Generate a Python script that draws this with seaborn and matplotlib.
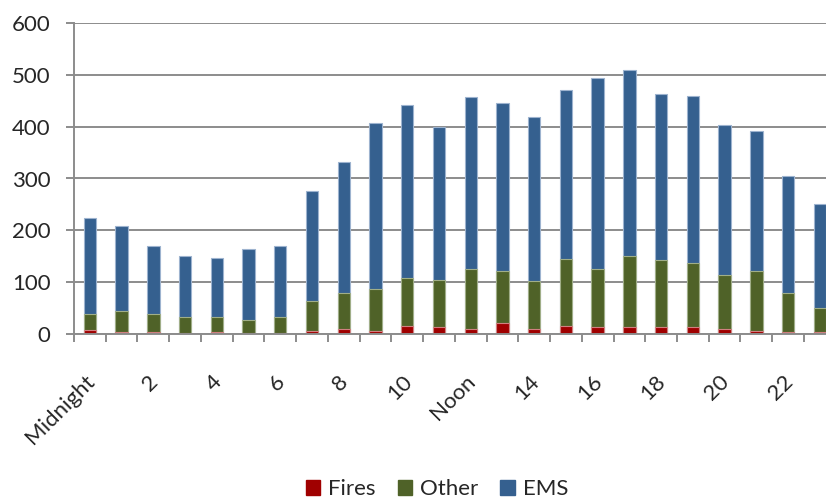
import pandas as pd
import seaborn as sns
import matplotlib.pyplot as plt
import matplotlib.transforms as mtransforms
from matplotlib.ticker import FixedLocator
from matplotlib.patches import Patch

# Дані: кількість викликів за годинами доби
hours = list(range(24))
tick_labels = ['Midnight', '', '2', '', '4', '', '6', '', '8', '', '10', '',
               'Noon', '', '14', '', '16', '', '18', '', '20', '', '22', '']
fires = [8, 4, 3, 2, 4, 1, 1, 6, 9, 6, 14, 12, 10, 20, 10, 15, 13, 12, 13, 12, 10, 6, 4, 3]
other = [31, 39, 36, 30, 28, 25, 31, 57, 70, 81, 94, 92, 115, 101, 91, 129, 112, 138, 129, 124, 103, 115, 75, 47]
ems = [184, 166, 130, 119, 114, 138, 138, 213, 253, 320, 334, 295, 332, 325, 317, 328, 369, 360, 321, 324, 291, 270, 225, 201]

colors = {'Fires': '#A00000', 'Other': '#4F6228', 'EMS': '#35608F'}
edges = {'Fires': '#D08080', 'Other': '#A0AE88', 'EMS': '#9DB3CF'}

data = pd.DataFrame({'hour': hours, 'Fires': fires, 'Other': other, 'EMS': ems})
data['cum_fires'] = data['Fires']
data['cum_other'] = data['Fires'] + data['Other']
data['cum_ems'] = data['cum_other'] + data['EMS']

sns.set_theme(style='white')
plt.rcParams['font.family'] = ['Lato', 'DejaVu Sans']

fig = plt.figure(figsize=(8.26, 4.98), dpi=100)
ax = fig.add_axes([74 / 826, 1 - 333.7 / 498, (835.7 - 74) / 826, (333.7 - 23.3) / 498])

for name, col in [('EMS', 'cum_ems'), ('Other', 'cum_other'), ('Fires', 'cum_fires')]:
    sns.barplot(data=data, x='hour', y=col, color=colors[name], saturation=1,
                width=0.39, edgecolor=edges[name], linewidth=0.8, ax=ax, zorder=3)

ax.set_xlim(-0.5, 23.5)
ax.set_ylim(0, 600)
ax.set_yticks(range(0, 601, 100))
ax.set_xlabel('')
ax.set_ylabel('')

ax.set_axisbelow(True)
ax.yaxis.grid(True, color='#8C8C8C', linewidth=1.4)
ax.xaxis.grid(False)

for s in ['top', 'right']:
    ax.spines[s].set_visible(False)
for s in ['left', 'bottom']:
    ax.spines[s].set_color('#8C8C8C')
    ax.spines[s].set_linewidth(1.4)
    ax.spines[s].set_zorder(4)

ax.set_xticks(hours)
ax.set_xticklabels(tick_labels, rotation=45, ha='right', rotation_mode='anchor', fontsize=16)
ax.tick_params(axis='x', which='major', length=0, pad=21)
# трохи зсуваємо підписи вліво-вниз
offset = mtransforms.ScaledTranslation(-4 / 72, -6 / 72, fig.dpi_scale_trans)
for lbl in ax.get_xticklabels():
    lbl.set_transform(lbl.get_transform() + offset)
ax.xaxis.set_minor_locator(FixedLocator([h - 0.5 for h in hours] + [23.5]))
ax.tick_params(axis='x', which='minor', bottom=True, length=6, width=1.4, color='#8C8C8C', direction='out')
ax.tick_params(axis='y', left=True, length=6, width=1.4, color='#8C8C8C', labelsize=16, pad=11)

handles = [Patch(facecolor=colors[n], edgecolor=colors[n], label=n) for n in ['Fires', 'Other', 'EMS']]
fig.legend(handles=handles, loc='lower center', bbox_to_anchor=(0.529, -0.042), ncol=3, frameon=False,
           fontsize=16, handlelength=0.65, handleheight=0.65, handletextpad=0.35, columnspacing=1.0)

fig.savefig('out.png', dpi=100)
